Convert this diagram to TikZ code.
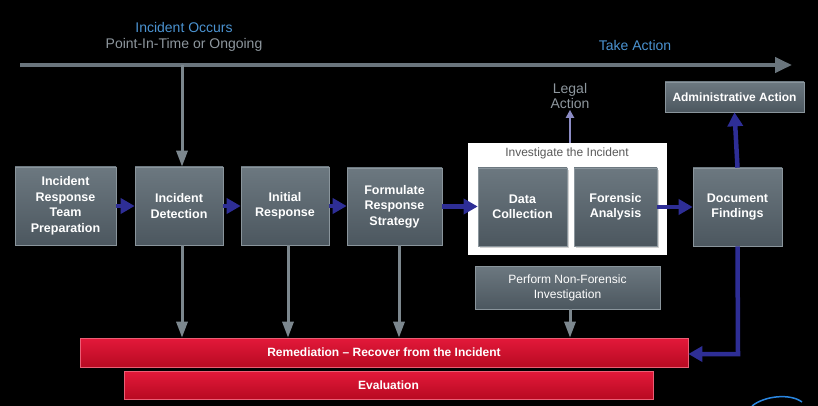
\documentclass[tikz,border=0pt]{standalone}
\usepackage{fontspec}
\setmainfont{Liberation Sans}
\usetikzlibrary{arrows.meta,shadows}
\definecolor{tlgray}{HTML}{6A757D}
\definecolor{argray}{HTML}{7C878E}
\definecolor{boxtop}{HTML}{6C7880}
\definecolor{boxbot}{HTML}{4C575F}
\definecolor{boxedge}{HTML}{8A959C}
\definecolor{flowblue}{HTML}{2E2E96}
\definecolor{txtblue}{HTML}{4B93D1}
\definecolor{txtgray}{HTML}{8E979E}
\definecolor{redtop}{HTML}{E3193A}
\definecolor{redbot}{HTML}{B80A22}
\definecolor{logoblue}{HTML}{2A86E0}
\tikzset{
  stepbox/.style={rectangle, top color=boxtop, bottom color=boxbot, draw=boxedge, line width=0.6pt,
    text=white, font=\bfseries\fontsize{12.5}{15.5}\selectfont, align=center, inner sep=2pt},
  redbar/.style={rectangle, top color=redtop, bottom color=redbot, draw=redtop!70!white, line width=0.6pt,
    text=white, font=\bfseries\fontsize{12}{14}\selectfont, align=center, inner sep=0pt},
  grayarrow/.style={draw=argray, line width=3pt, -{Triangle[length=16pt,width=11pt]}},
  bluearrow/.style={draw=flowblue, line width=4.5pt, -{Triangle[length=14pt,width=15pt]}},
}
\begin{document}
\begin{tikzpicture}[x=1pt,y=-1pt]
\fill[black] (0,0) rectangle (818,406);
\useasboundingbox (0,0) rectangle (818,406);

% texts on top
\node[text=txtblue, font=\fontsize{14}{16}\selectfont] (occ) at (184,27) {Incident Occurs};
\node[text=txtgray, font=\fontsize{14}{16}\selectfont] (pit) at (184,45) {Point-In-Time or Ongoing};
\node[text=txtblue, font=\fontsize{14}{16}\selectfont] (take) at (635,45) {Take Action};

% timeline
\coordinate (tl0) at (20,65);
\coordinate (tl1) at (792,65);
\coordinate (tlx) at (182,65);
\draw[draw=tlgray, line width=4pt, -{Triangle[length=17pt,width=15pt]}] (tl0) -- (tl1);

% investigate frame
\node[rectangle, fill=white, minimum width=199pt, minimum height=112pt, inner sep=0pt] (inv) at (567.5,199) {};
\node[text=black!65, font=\fontsize{12}{14}\selectfont] (invt) at (567,153) {Investigate the Incident};

% main boxes
\node[stepbox, minimum width=101pt, minimum height=78pt] (prep) at (65.5,206) {Incident\\Response\\Team\\Preparation};
\node[stepbox, minimum width=88pt, minimum height=78pt] (det) at (179,206) {Incident\\Detection};
\node[stepbox, minimum width=88pt, minimum height=78pt] (init) at (285,206) {Initial\\Response};
\node[stepbox, minimum width=95pt, minimum height=77pt] (form) at (394.5,206.5) {Formulate\\Response\\Strategy};
\node[stepbox, minimum width=89pt, minimum height=78pt, drop shadow={shadow xshift=2pt, shadow yshift=-2pt, opacity=0.35}] (data) at (522.5,207) {Data\\Collection};
\node[stepbox, minimum width=83pt, minimum height=78pt, drop shadow={shadow xshift=2pt, shadow yshift=-2pt, opacity=0.35}] (fore) at (615.5,207) {Forensic\\Analysis};
\node[stepbox, minimum width=89pt, minimum height=78pt] (doc) at (737.5,207) {Document\\Findings};
\node[stepbox, minimum width=139pt, minimum height=30pt, font=\bfseries\fontsize{12}{14}\selectfont] (adm) at (734.5,97) {Administrative Action};
\node[stepbox, minimum width=185pt, minimum height=43pt, font=\fontsize{12}{15}\selectfont] (nonf) at (567.5,287.5) {Perform Non-Forensic\\Investigation};
\node[text=txtgray, font=\fontsize{14}{15}\selectfont, align=center, inner sep=1pt] (legal) at (570,96) {Legal\\Action};

% red bars
\node[redbar, minimum width=608pt, minimum height=29pt] (rem) at (384,352.5) {Remediation – Recover from the Incident};
\node[redbar, minimum width=529pt, minimum height=28pt] (eval) at (388.5,385) {Evaluation};

% gray arrows
\draw[grayarrow] (tlx) -- (tlx |- det.north);
\draw[grayarrow] ([xshift=3pt]det.south) -- ([xshift=3pt]det.south |- rem.north);
\draw[grayarrow] ([xshift=3pt]init.south) -- ([xshift=3pt]init.south |- rem.north);
\draw[grayarrow] ([xshift=4.5pt]form.south) -- ([xshift=4.5pt]form.south |- rem.north);
\draw[grayarrow] ([xshift=2.5pt]nonf.south) -- ([xshift=2.5pt]nonf.south |- rem.north);

% blue flow arrows
\draw[bluearrow] (prep.east) -- (prep.east -| det.west);
\draw[bluearrow] (det.east) -- (det.east -| init.west);
\draw[bluearrow] (init.east) -- (init.east -| form.west);
\draw[bluearrow] (form.east) -- (form.east -| data.west);
\draw[bluearrow] (fore.east) -- (fore.east -| doc.west);
\draw[bluearrow] (doc.north) -- (adm.south);
\draw[draw=flowblue!55!white, line width=2pt, -{Triangle[length=8pt,width=8pt]}] ([xshift=2.5pt]inv.north) -- ([xshift=2.5pt]inv.north |- legal.south);
\coordinate (corner) at (738,354);
\draw[bluearrow] (doc.south) -- (corner) -- (corner -| rem.east);

% logo fragment
\draw[draw=logoblue, line width=1.5pt] (752,406) .. controls (764,396) and (790,393) .. (802,402);
\end{tikzpicture}
\end{document}
